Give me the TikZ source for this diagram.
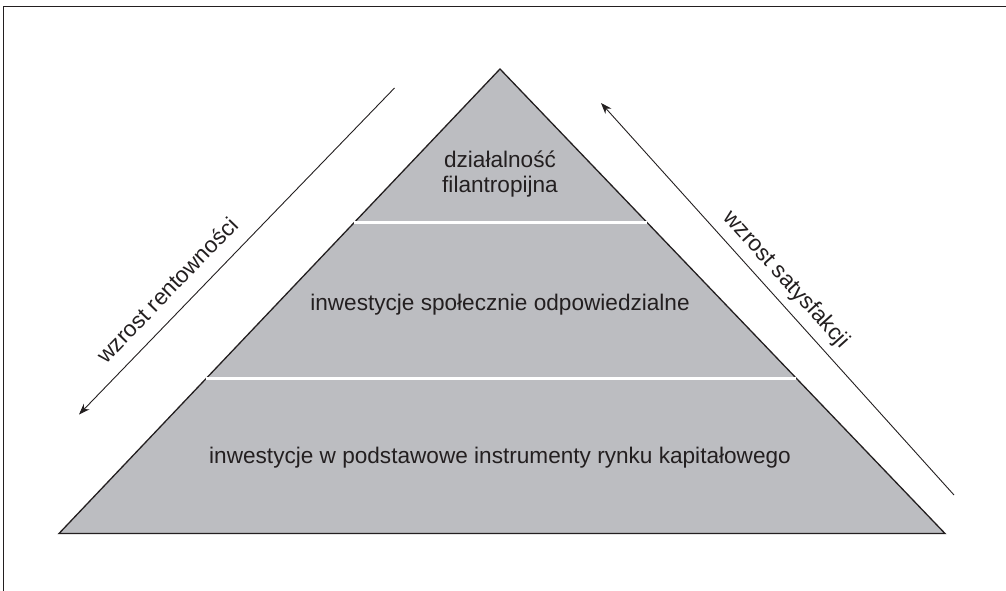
\documentclass[tikz,border=0pt]{standalone}
\usepackage{fontspec}
\setmainfont{Liberation Sans}
\usetikzlibrary{calc,arrows.meta}
\definecolor{ink}{HTML}{231F20}
\definecolor{tier}{HTML}{BCBDC1}
\tikzset{
  label text/.style={text=ink,font=\fontsize{22.6}{25}\selectfont,inner sep=0pt},
  side label/.style={text=ink,font=\fontsize{22.6}{25}\selectfont,inner sep=0pt},
  trend/.style={draw=ink,line width=0.9pt,-{Stealth[length=11pt,width=8pt]}},
  divider/.style={draw=white,line width=2.6pt},
}
\begin{document}
\begin{tikzpicture}[x=1pt,y=-1pt]
  \useasboundingbox (0,0) rectangle (1006,591);
  % frame on top and left
  \draw[ink,line width=1.8pt] (3.5,591) -- (3.5,6.5) -- (1006,6.5);

  % pyramid
  \coordinate (apex) at (500,69);
  \coordinate (bl) at (59,533.5);
  \coordinate (br) at (945,533.5);
  \draw[fill=tier,draw=ink,line width=1.3pt,line join=miter] (apex) -- (bl) -- (br) -- cycle;
  \draw[divider] ($(apex)!0.3305!(bl)$) -- ($(apex)!0.3305!(br)$);
  \draw[divider] ($(apex)!0.6659!(bl)$) -- ($(apex)!0.6659!(br)$);

  % tier labels
  \node[label text,align=center] (top) at (500,174) {działalność\\filantropijna};
  \node[label text] (mid) at (500,305) {inwestycje społecznie odpowiedzialne};
  \node[label text] (base) at (500,458) {inwestycje w podstawowe instrumenty rynku kapitałowego};

  % trend arrows
  \coordinate (lstart) at (394.5,88);
  \coordinate (lend) at (79,414.5);
  \draw[trend] (lstart) -- (lend);
  \coordinate (rstart) at (954,495);
  \coordinate (rend) at (601,103);
  \draw[trend] (rstart) -- (rend);

  \node[side label,rotate=46] (profit) at (167,290) {wzrost rentowności};
  \node[side label,rotate=-48] (satisf) at (786,280) {wzrost satysfakcji};
\end{tikzpicture}
\end{document}
